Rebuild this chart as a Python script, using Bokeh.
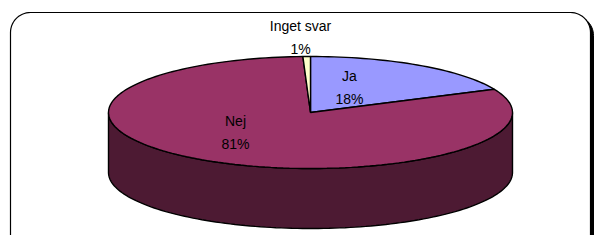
import numpy as np
from bokeh.plotting import figure
from bokeh.models import Range1d
from bokeh.core.properties import value
from bokeh.embed import file_html
from bokeh.resources import INLINE

# ---- data ----
categories = ["Ja", "Nej", "Inget svar"]
shares = [18.2, 81.2, 0.6]
top_colors = ["#9999FF", "#993366", "#FFFFCC"]
side_colors = ["#4D4D80", "#4D1A33", "#808066"]

# ---- layout (pixel coordinates) ----
W, H = 596, 235
cx, cy, rx, ry, depth = 310, 112, 202, 56, 60
label_anchor = {"Ja": (349, 75), "Nej": (235, 120), "Inget svar": (300, 25)}
line_gap = 23
FONT = "Liberation Sans"

p = figure(width=W, height=H, x_range=Range1d(0, W), y_range=Range1d(H, 0),
           output_backend="svg", toolbar_location=None, min_border=0)
p.axis.visible = False
p.grid.visible = False
p.outline_line_color = None
p.background_fill_color = "white"
p.border_fill_color = "white"

# ---- rounded frame with shadow ----
def rounded_rect(x0, y0, x1, y1, r, n=16):
    xs, ys = [], []
    corners = [(x1 - r, y0 + r, -np.pi / 2, 0), (x1 - r, y1 - r, 0, np.pi / 2),
               (x0 + r, y1 - r, np.pi / 2, np.pi), (x0 + r, y0 + r, np.pi, 1.5 * np.pi)]
    for ccx, ccy, a0, a1 in corners:
        t = np.linspace(a0, a1, n)
        xs.extend(ccx + r * np.cos(t))
        ys.extend(ccy + r * np.sin(t))
    return xs, ys

fx, fy = rounded_rect(10, 12, 590, 262, 20)
p.patch([x + 3 for x in fx], [y + 3 for y in fy], fill_color="black", line_color="black")
p.patch(fx, fy, fill_color="white", line_color="black", line_width=1.2)

# ---- pie geometry ----
total = sum(shares)
bounds = np.concatenate([[0], np.cumsum(shares)]) / total * 2 * np.pi

def ell(theta, dy=0.0):
    return cx + rx * np.sin(theta), cy - ry * np.cos(theta) + dy

# side walls (front half only)
for i in range(len(shares)):
    a, b = bounds[i], bounds[i + 1]
    lo, hi = max(a, np.pi / 2), min(b, 1.5 * np.pi)
    if hi <= lo:
        continue
    t = np.linspace(lo, hi, 120)
    tx, ty = ell(t)
    bx, by = ell(t[::-1], depth)
    p.patch(list(tx) + list(bx), list(ty) + list(by), fill_color=side_colors[i],
            line_color="black", line_width=1.4)

# top faces
for i in range(len(shares)):
    a, b = bounds[i], bounds[i + 1]
    t = np.linspace(a, b, max(4, int(200 * (b - a) / (2 * np.pi)) + 4))
    tx, ty = ell(t)
    p.patch([cx] + list(tx), [cy] + list(ty), fill_color=top_colors[i],
            line_color="black", line_width=1.4)

# labels
for i, c in enumerate(categories):
    lx, ly = label_anchor[c]
    pct = f"{round(shares[i] / total * 100)}%"
    p.text(x=[lx, lx], y=[ly, ly + line_gap], text=[c, pct], text_align="center",
           text_baseline="alphabetic", text_font=value(FONT), text_font_size="14px",
           text_color="black")

open("out.html", "w").write(file_html(p, INLINE))
